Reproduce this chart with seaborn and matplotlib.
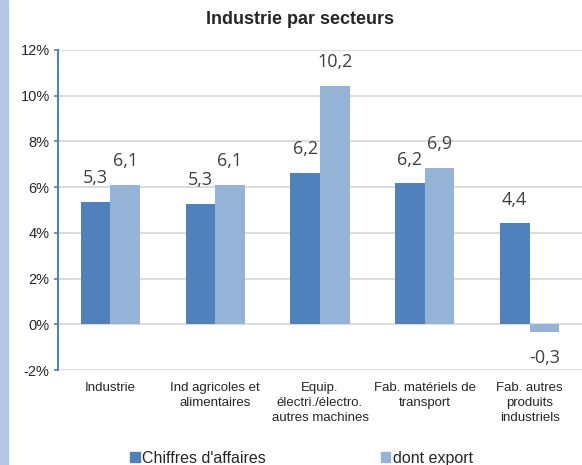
import pandas as pd
import numpy as np
import matplotlib.pyplot as plt
import matplotlib.patches as mpatches
import seaborn as sns

# data
secteurs = ['Industrie', 'Ind agricoles et\nalimentaires',
            'Equip.\nélectri./électro.\nautres machines',
            'Fab. matériels de\ntransport',
            'Fab. autres\nproduits\nindustriels']
series = ["Chiffres d'affaires", 'dont export']
ca_values = [5.35, 5.28, 6.62, 6.17, 4.42]
export_values = [6.09, 6.09, 10.43, 6.84, -0.33]
ca_labels = ['5,3', '5,3', '6,2', '6,2', '4,4']
export_labels = ['6,1', '6,1', '10,2', '6,9', '-0,3']
yticks = [-2, 0, 2, 4, 6, 8, 10, 12]

colors = {"Chiffres d'affaires": '#4F81BD', 'dont export': '#95B3D7'}

df = pd.DataFrame({
    'secteur': secteurs * 2,
    'serie': [series[0]] * len(secteurs) + [series[1]] * len(secteurs),
    'valeur': ca_values + export_values,
})

sns.set_style('white')
plt.rcParams['font.family'] = ['Liberation Sans', 'DejaVu Sans']

fig = plt.figure(figsize=(5.82, 4.65), dpi=100)
fig.patches.append(mpatches.Rectangle((0, 0), 8 / 582, 1, transform=fig.transFigure,
                                      color='#B4C7E7', zorder=0))

ax = fig.add_axes([0.0997, 0.2043, 0.9003, 0.6882])
sns.barplot(data=df, x='secteur', y='valeur', hue='serie', palette=colors,
            order=secteurs, hue_order=series, width=0.565, saturation=1,
            linewidth=0, legend=False, ax=ax)

ax.set_ylim(-2, 12)
ax.set_yticks(yticks)
ax.set_yticklabels([f'{t}%' for t in yticks], fontsize=10.5)
ax.yaxis.grid(True, color='#D9D9D9', linewidth=1.3)
ax.set_axisbelow(True)
ax.set_xlabel('')
ax.set_ylabel('')
for s in ['top', 'right', 'bottom']:
    ax.spines[s].set_visible(False)
ax.spines['left'].set_color('#4F81BD')
ax.spines['left'].set_linewidth(1.5)
ax.tick_params(axis='y', left=True, length=3, color='#4F81BD', width=1.2, pad=3)
ax.tick_params(axis='x', bottom=False, labelsize=9.5, pad=5)
for lbl in ax.get_xticklabels():
    lbl.set_linespacing(1.35)

# value labels above / below bars
bars = ax.patches
labels = ca_labels + export_labels
for bar, txt in zip(bars, labels):
    h = bar.get_height()
    x = bar.get_x() + bar.get_width() / 2
    off = 17 if h >= 0 else -19
    ax.annotate(txt, (x, h), xytext=(0, off), textcoords='offset points',
                ha='center', va='center', fontsize=13, color='#404040',
                family=['Open Sans', 'DejaVu Sans'])

fig.text(0.516, 0.957, 'Industrie par secteurs', ha='center', va='center',
         fontsize=13, fontweight='bold')

handles = [mpatches.Patch(color=colors[s], label=s) for s in series]
fig.legend(handles=handles, loc='center', bbox_to_anchor=(0.518, 0.015),
           ncol=2, frameon=False, fontsize=11.5, handlelength=0.6,
           handleheight=0.6, handletextpad=0.15, columnspacing=7.2)

fig.savefig('out.png', dpi=100)
